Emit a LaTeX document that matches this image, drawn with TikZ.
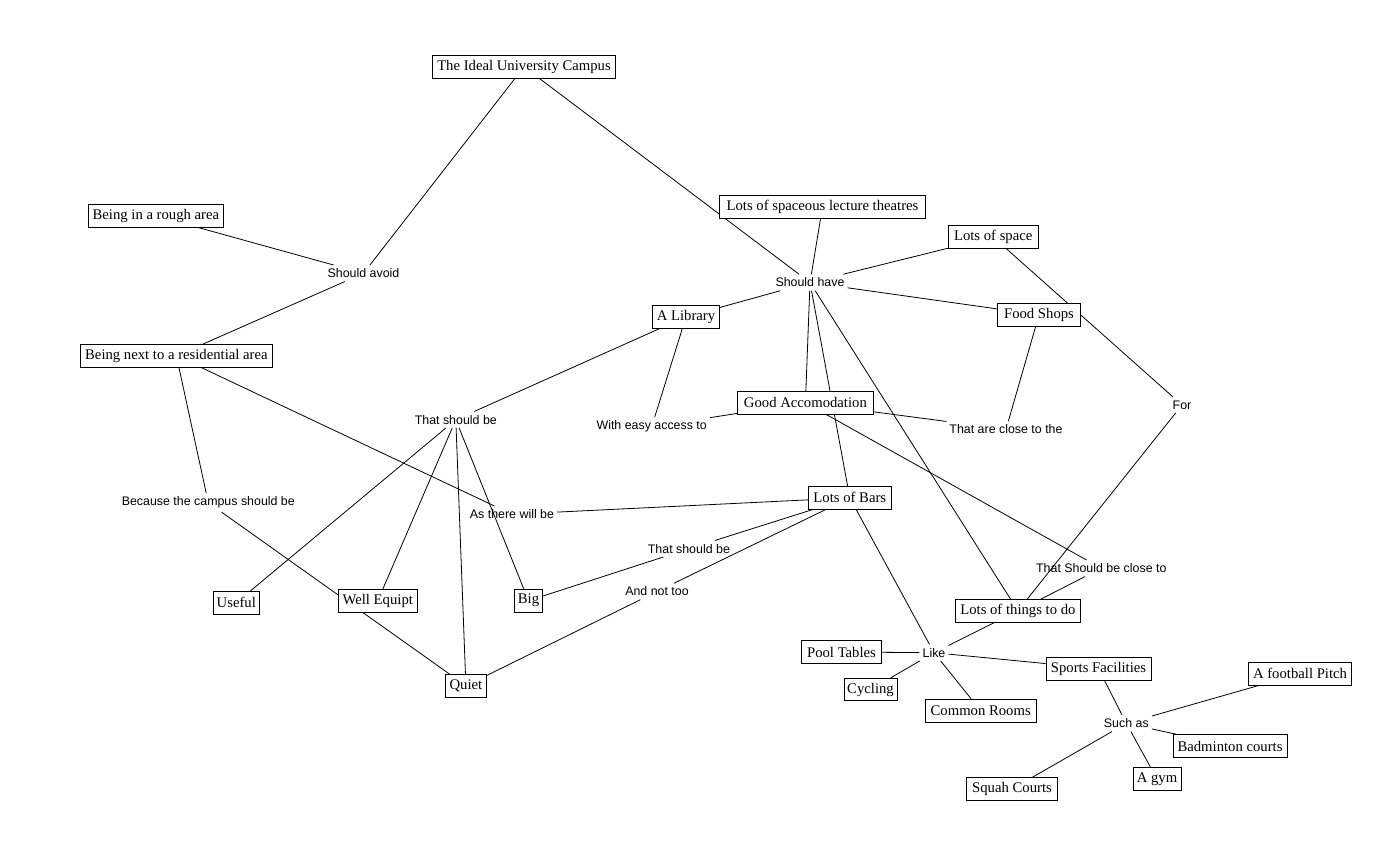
\documentclass[tikz,border=0pt]{standalone}
\usepackage{fontspec}
\setmainfont{Liberation Serif}
\newfontfamily\labfont{Liberation Sans}
\usetikzlibrary{backgrounds}
\tikzset{
  box/.style={draw=black, fill=white, line width=0.9pt, minimum height=22.5pt,
    inner xsep=3pt, inner ysep=0pt, font=\fontsize{14.7}{17}\selectfont},
  lab/.style={inner xsep=3pt, inner ysep=3.5pt, font=\labfont\fontsize{12.4}{14}\selectfont},
  edge/.style={draw=black, line width=0.8pt}
}
\begin{document}
\begin{tikzpicture}[x=1pt,y=-1pt]
\useasboundingbox (0,0) rectangle (1391,841);
% boxes
\node[box, minimum width=183pt] (ideal) at (524,66.8) {The Ideal University Campus};
\node[box, minimum width=135pt] (rough) at (155.9,215.8) {Being in a rough area};
\node[box, minimum width=192pt] (resid) at (176.4,355.8) {Being next to a residential area};
\node[box, minimum width=206pt] (lect) at (822.5,206.8) {Lots of spaceous lecture theatres};
\node[box, minimum width=90pt] (space) at (993.2,237) {Lots of space};
\node[box, minimum width=67pt] (lib) at (686,316.8) {A Library};
\node[box, minimum width=83pt] (food) at (1039,314.8) {Food Shops};
\node[box, minimum width=136pt] (acc) at (805.4,402.8) {Good Accomodation};
\node[box, minimum width=83pt] (bars) at (849.8,497.8) {Lots of Bars};
\node[box, minimum width=46pt] (useful) at (236.3,602.7) {Useful};
\node[box, minimum width=79pt] (well) at (377.8,600.7) {Well Equipt};
\node[box, minimum width=28pt] (big) at (528.5,600.7) {Big};
\node[box, minimum width=41pt] (quiet) at (465.9,685.7) {Quiet};
\node[box, minimum width=125pt] (things) at (1017.9,610.8) {Lots of things to do};
\node[box, minimum width=80pt] (pool) at (841.5,652) {Pool Tables};
\node[box, minimum width=53pt] (cyc) at (870.5,689.5) {Cycling};
\node[box, minimum width=111pt] (common) at (980.7,710.7) {Common Rooms};
\node[box, minimum width=105pt] (sports) at (1098.5,668.7) {Sports Facilities};
\node[box, minimum width=103pt] (football) at (1300,673.7) {A football Pitch};
\node[box, minimum width=114pt] (badm) at (1230,746) {Badminton courts};
\node[box, minimum width=48pt] (gym) at (1157,779) {A gym};
\node[box, minimum width=91pt] (squash) at (1012,789) {Squah Courts};
% linking phrases
\node[lab] (avoid) at (363.5,273.3) {Should avoid};
\node[lab] (have) at (810,282.5) {Should have};
\node[lab] (tsb1) at (455.8,419.7) {That should be};
\node[lab] (easy) at (651.7,426.7) {With easy access to};
\node[lab] (close) at (1006,429.3) {That are close to the};
\node[lab] (for) at (1182,405) {For};
\node[lab] (because) at (208.3,502.7) {Because the campus should be};
\node[lab] (there) at (512,514.3) {As there will be};
\node[lab] (tsb2) at (688.9,548.7) {That should be};
\node[lab] (nottoo) at (657,591.5) {And not too};
\node[lab] (closeto) at (1101.3,568.3) {That Should be close to};
\node[lab] (like) at (934,652.7) {Like};
\node[lab] (such) at (1126.3,723.3) {Such as};
% connectors
\begin{pgfonlayer}{background}
\fill[white] (0,0) rectangle (1391,841);
\path[edge] (ideal) -- (avoid);
\path[edge] (ideal) -- (have);
\path[edge] (avoid) -- (rough);
\path[edge] (avoid) -- (resid);
\path[edge] (have) -- (lect);
\path[edge] (have) -- (space);
\path[edge] (have) -- (food);
\path[edge] (have) -- (lib);
\path[edge] (have) -- (acc);
\path[edge] (have) -- (bars);
\path[edge] (have) -- (things);
\path[edge] (space) -- (for);
\path[edge] (for) -- (things);
\path[edge] (food) -- (close);
\path[edge] (acc) -- (close);
\path[edge] (lib) -- (tsb1);
\path[edge] (lib) -- (easy);
\path[edge] (easy) -- (acc);
\path[edge] (tsb1) -- (useful);
\path[edge] (tsb1) -- (well);
\path[edge] (tsb1) -- (quiet);
\path[edge] (tsb1) -- (big);
\path[edge] (resid) -- (because);
\path[edge] (because) -- (quiet);
\path[edge] (resid) -- (there);
\path[edge] (there) -- (bars);
\path[edge] (bars) -- (tsb2);
\path[edge] (tsb2) -- (big);
\path[edge] (bars) -- (nottoo);
\path[edge] (nottoo) -- (quiet);
\path[edge] (bars) -- (like);
\path[edge] (acc) -- (closeto);
\path[edge] (closeto) -- (things);
\path[edge] (things) -- (like);
\path[edge] (like) -- (pool);
\path[edge] (like) -- (cyc);
\path[edge] (like) -- (common);
\path[edge] (like) -- (sports);
\path[edge] (sports) -- (such);
\path[edge] (such) -- (football);
\path[edge] (such) -- (badm);
\path[edge] (such) -- (gym);
\path[edge] (such) -- (squash);
\end{pgfonlayer}
\end{tikzpicture}
\end{document}
